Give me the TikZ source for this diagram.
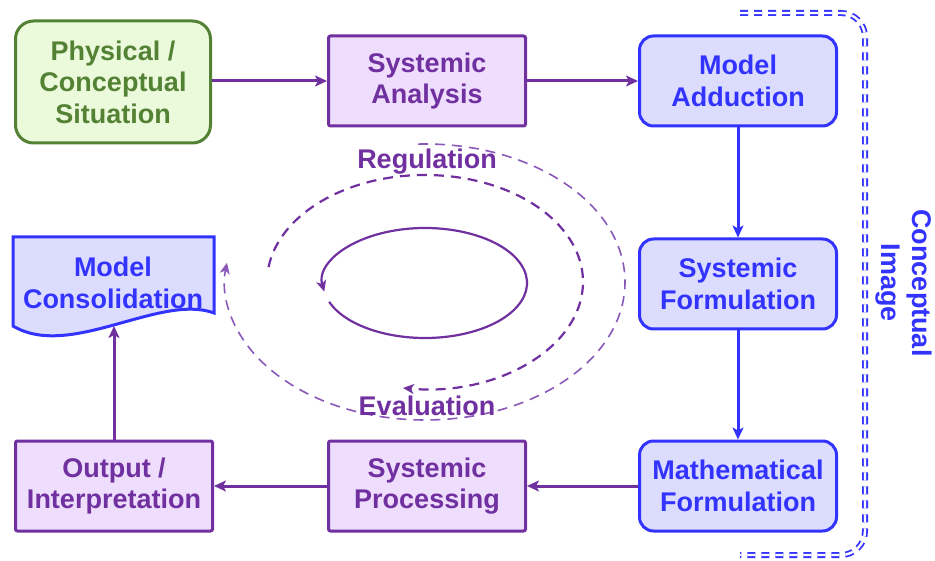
\documentclass[tikz,border=0pt]{standalone}
\usepackage{fontspec}
\setmainfont{Liberation Sans}
\usetikzlibrary{arrows.meta}
\definecolor{pur}{HTML}{7030A0}
\definecolor{purl}{HTML}{8A58B8}
\definecolor{pfill}{HTML}{EEDDFC}
\definecolor{blu}{HTML}{3333FF}
\definecolor{bfill}{HTML}{DCDCFF}
\definecolor{grn}{HTML}{548235}
\definecolor{gfill}{HTML}{ECFADC}
\tikzset{
  lbl/.style={font=\bfseries\fontsize{27}{31.5}\selectfont, align=center, inner sep=0pt},
  box/.style={lbl, draw, line width=3pt, minimum width=197pt, minimum height=90pt},
  pbox/.style={box, draw=pur, fill=pfill, text=pur, rounded corners=2pt},
  bbox/.style={box, draw=blu, fill=bfill, text=blu, rounded corners=14pt},
  gbox/.style={box, draw=grn, fill=gfill, text=grn, rounded corners=18pt, minimum width=195pt, minimum height=122pt},
  tip/.style={-{Stealth[length=12pt,width=11pt,inset=3pt]}},
  parr/.style={tip, draw=pur, line width=3pt},
  barr/.style={tip, draw=blu, line width=3pt},
  cyc/.style={draw=pur, line width=2.2pt, -{Stealth[length=11pt,width=10pt,inset=3pt]}},
  brace/.style={draw=blu, double=white, double distance=2.4pt, line width=1.8pt, dash pattern=on 8pt off 6pt, rounded corners=24pt}
}
\begin{document}
\begin{tikzpicture}[x=1pt,y=1pt]
\useasboundingbox (0,0) rectangle (935,-561);
% boxes
\node[gbox] (phys) at (113,-82) {Physical /\\Conceptual\\Situation};
\node[pbox] (sa) at (427,-81) {Systemic\\Analysis};
\node[bbox] (ma) at (738,-81) {Model\\Adduction};
\node[bbox] (sf) at (738,-284) {Systemic\\Formulation};
\node[bbox] (mf) at (738,-486) {Mathematical\\Formulation};
\node[pbox] (sp) at (427,-486) {Systemic\\Processing};
\node[pbox] (oi) at (114,-486) {Output /\\Interpretation};
% document shape
\draw[draw=blu, fill=bfill, line width=3pt, line join=miter]
  (13,-237) -- (214,-237) -- (214,-313) .. controls (160,-293) and (70,-360) .. (13,-326) -- cycle;
\node[lbl, text=blu] (mc) at (113,-283) {Model\\Consolidation};
\coordinate (mcb) at (114,-326);
% connectors
\draw[parr] (phys.east |- sa.west) -- (sa.west);
\draw[parr] (sa.east) -- (ma.west);
\draw[barr] (ma.south) -- (sf.north);
\draw[barr] (sf.south) -- (mf.north);
\draw[parr] (mf.west) -- (sp.east);
\draw[parr] (sp.west) -- (oi.east);
\draw[parr] (oi.north) -- (mcb);
% cycle
\coordinate (cc) at (425,-283);
\coordinate (cd) at (425,-282);
\draw[cyc] ([shift={(200:102pt and 55pt)}]cc) arc[start angle=200, end angle=549, x radius=102pt, y radius=55pt];
\draw[cyc, dash pattern=on 10pt off 7pt] ([shift={(172:158pt and 107pt)}]cd) arc[start angle=172, end angle=-98, x radius=158pt, y radius=107pt];
\draw[cyc, draw=purl, line width=1.6pt, dash pattern=on 10pt off 7pt] ([shift={(92:200pt and 138pt)}]cd) arc[start angle=92, end angle=-188, x radius=200pt, y radius=138pt];
\node[lbl, text=pur, anchor=base] (reg) at (427,-169) {Regulation};
\node[lbl, text=pur, anchor=base] (eva) at (427,-415) {Evaluation};
% brace
\coordinate (b1) at (740,-13);
\coordinate (b2) at (865,-13);
\coordinate (b3) at (865,-555);
\coordinate (b4) at (740,-555);
\draw[brace] (b1) -- (b2) -- (b3) -- (b4);
\node[lbl, text=blu, rotate=-90] (ci) at (904,-283) {Conceptual\\Image};
\end{tikzpicture}
\end{document}
